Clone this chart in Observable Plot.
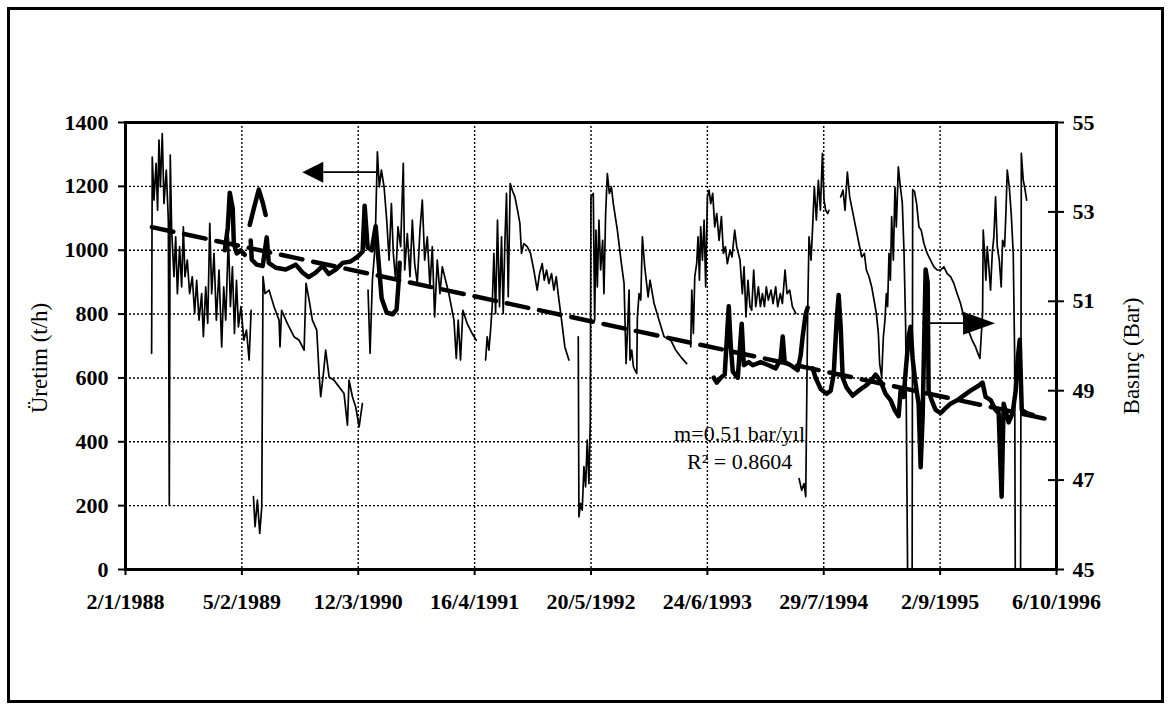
<!DOCTYPE html>
<html lang="tr">
<head>
<meta charset="utf-8">
<script src="https://cdn.jsdelivr.net/npm/d3@7"></script>
<script src="https://cdn.jsdelivr.net/npm/@observablehq/plot@0.6"></script>
<style>
  html, body { margin: 0; padding: 0; background: #fff; }
  #sayfa { position: relative; width: 1170px; height: 709px; overflow: hidden; background: #fff; }
  #sayfa svg { position: absolute; left: 0; top: 0; }
  #cerceve { position: absolute; left: 7px; top: 7px; width: 1157px; height: 696px;
             border: 3px solid #000; box-sizing: border-box; pointer-events: none; }
</style>
</head>
<body>
<div id="sayfa"><div id="cerceve"></div></div>
<script>
// ---- Eksenler ----
const tarihEtiketleri = ["2/1/1988", "5/2/1989", "12/3/1990", "16/4/1991", "20/5/1992",
                         "24/6/1993", "29/7/1994", "2/9/1995", "6/10/1996"];
const uretimAralik = [0, 1400];          // t/h (sol eksen)
const uretimTikleri = [0, 200, 400, 600, 800, 1000, 1200, 1400];
const basincAralik = [45, 55];           // bar (sağ eksen)
const basincTikleri = [45, 47, 49, 51, 53, 55];

// ---- Üretim (t/h): [ondalık yıl, değer]; null = veri boşluğu ----
const uretim = [
  [1988.248,677],[1988.254,1292],[1988.27,1157],[1988.29,1272],[1988.304,1125],[1988.317,1345],[1988.33,1198],[1988.348,1365],
  [1988.364,1146],[1988.386,1251],[1988.405,1094],[1988.414,201],[1988.423,1298],[1988.436,1063],[1988.458,917],[1988.474,1042],
  [1988.49,864],[1988.511,1011],[1988.53,885],[1988.546,1073],[1988.561,917],[1988.583,969],[1988.605,864],[1988.63,917],
  [1988.652,802],[1988.671,906],[1988.693,781],[1988.718,864],[1988.734,729],[1988.756,885],[1988.775,771],[1988.794,1084],
  [1988.812,864],[1988.834,990],[1988.856,781],[1988.881,938],[1988.906,697],[1988.925,885],[1988.944,781],[1988.969,1042],
  [1988.988,823],[1989.007,948],[1989.026,739],[1989.045,906],[1989.063,760],[1989.088,823],[1989.114,718],[1989.139,750],
  [1989.164,656],[1989.183,812],
  null,
  [1989.205,228],[1989.22,134],[1989.242,217],[1989.264,113],[1989.283,196],[1989.295,917],[1989.314,864],[1989.352,875],
  [1989.399,823],[1989.446,781],[1989.455,697],[1989.47,812],[1989.525,770],[1989.587,729],[1989.635,718],[1989.682,687],
  [1989.70,896],[1989.729,844],[1989.76,781],[1989.801,750],[1989.823,614],[1989.838,541],[1989.864,614],[1989.885,687],
  [1989.917,603],[1989.964,593],[1990.011,572],[1990.058,551],[1990.09,452],[1990.105,593],[1990.137,541],[1990.168,509],
  [1990.2,447],[1990.231,520],
  null,
  [1990.284,875],[1990.303,677],[1990.325,906],[1990.35,1011],[1990.372,1308],[1990.39,1198],[1990.41,1251],[1990.435,1198],
  [1990.46,1094],[1990.482,969],[1990.504,1146],[1990.522,990],[1990.544,906],[1990.566,1073],[1990.591,1011],[1990.616,1272],
  [1990.629,938],[1990.654,1052],[1990.679,917],[1990.701,1094],[1990.723,958],[1990.748,896],[1990.773,1063],[1990.795,1157],
  [1990.817,969],[1990.842,1042],[1990.867,885],[1990.889,1011],[1990.911,791],[1990.936,969],[1990.961,864],[1990.983,948],
  [1991.014,906],[1991.045,864],[1991.093,781],[1991.115,661],[1991.133,781],[1991.155,656],[1991.177,812],[1991.218,770],
  [1991.265,739],[1991.303,718],
  null,
  [1991.391,656],[1991.406,729],[1991.422,687],[1991.438,750],[1991.453,823],[1991.469,990],[1991.485,802],[1991.503,1094],
  [1991.522,823],[1991.541,1042],[1991.557,802],[1991.573,1031],[1991.588,1178],[1991.604,854],[1991.623,1209],[1991.642,1188],
  [1991.667,1167],[1991.692,1125],[1991.714,1084],[1991.729,990],[1991.751,1021],[1991.783,1011],[1991.814,990],[1991.845,938],
  [1991.877,875],[1991.899,927],[1991.924,958],[1991.943,906],[1991.965,938],[1991.987,896],[1992.012,927],[1992.034,875],
  [1992.056,917],[1992.074,864],[1992.106,781],[1992.137,697],[1992.175,656],
  null,
  [1992.263,729],[1992.269,165],[1992.285,207],[1992.3,186],[1992.316,322],[1992.332,259],[1992.347,405],[1992.363,269],
  [1992.376,468],[1992.382,1167],[1992.404,1178],[1992.417,781],[1992.429,1063],[1992.442,885],[1992.457,1094],[1992.473,938],
  [1992.492,1031],[1992.504,864],[1992.52,1115],[1992.536,1240],[1992.555,1178],[1992.574,1198],[1992.592,1146],[1992.63,1063],
  [1992.668,958],[1992.693,896],[1992.712,645],[1992.724,739],[1992.74,875],[1992.749,656],[1992.765,687],[1992.781,635],
  [1992.796,624],[1992.812,614],[1992.818,791],[1992.834,864],[1992.85,844],[1992.865,1042],[1992.887,948],[1992.919,854],
  [1992.937,906],[1992.975,833],[1993.022,781],[1993.069,729],[1993.132,718],[1993.179,687],[1993.226,666],[1993.282,645],
  null,
  [1993.32,697],[1993.33,875],[1993.345,739],[1993.358,917],[1993.376,958],[1993.389,1042],[1993.402,906],[1993.414,1073],
  [1993.43,969],[1993.446,1094],[1993.461,885],[1993.477,1167],[1993.493,1188],[1993.508,1146],[1993.527,1178],[1993.546,1073],
  [1993.565,1115],[1993.587,1031],[1993.609,1105],[1993.628,990],[1993.646,1011],[1993.665,958],[1993.69,1000],[1993.709,979],
  [1993.734,1063],[1993.753,1011],[1993.784,969],[1993.806,864],[1993.822,948],[1993.84,791],[1993.859,906],[1993.878,823],
  [1993.894,812],[1993.913,938],[1993.932,823],[1993.957,885],[1993.976,823],[1993.995,864],[1994.014,823],[1994.032,885],
  [1994.051,844],[1994.076,875],[1994.095,833],[1994.12,885],[1994.139,823],[1994.164,864],[1994.183,833],[1994.208,938],
  [1994.227,864],[1994.252,875],[1994.277,823],[1994.309,802],
  null,
  [1994.34,285],[1994.365,248],[1994.387,269],[1994.403,228],[1994.421,802],[1994.434,1042],[1994.453,969],[1994.465,1052],
  [1994.484,1198],[1994.503,1094],[1994.522,1219],[1994.541,1125],[1994.56,1303],[1994.575,1157],[1994.591,1125],[1994.61,1115],
  [1994.622,1125],
  null,
  [1994.732,1167],[1994.754,1188],[1994.773,1125],[1994.795,1245],[1994.817,1167],[1994.842,1125],[1994.873,1073],[1994.904,1021],
  [1994.93,979],[1994.955,990],[1994.974,938],[1994.999,917],[1995.024,885],[1995.046,844],[1995.068,802],[1995.087,739],
  [1995.099,645],[1995.118,603],[1995.134,729],[1995.149,781],[1995.162,864],[1995.174,823],[1995.187,990],[1995.2,906],
  [1995.212,1105],[1995.228,969],[1995.243,1198],[1995.256,1073],[1995.275,1261],[1995.294,1198],[1995.312,1150],[1995.328,1000],
  [1995.344,758],[1995.362,0],[1995.405,0],[1995.41,1190],[1995.428,1183],[1995.447,1146],[1995.469,1073],[1995.49,1063],
  [1995.516,1021],[1995.547,990],[1995.578,969],[1995.61,948],[1995.641,938],[1995.672,938],[1995.704,948],[1995.735,927],
  [1995.767,917],[1995.798,896],[1995.829,864],[1995.861,833],[1995.892,791],[1995.923,760],[1995.97,718],[1996.002,697],
  [1996.024,677],[1996.043,661],[1996.055,729],[1996.068,802],[1996.074,1063],[1996.087,990],[1996.099,906],[1996.112,1011],
  [1996.127,948],[1996.143,875],[1996.159,990],[1996.174,1042],[1996.19,1167],[1996.206,1011],[1996.225,969],[1996.243,885],
  [1996.256,1031],[1996.275,1011],[1996.287,1115],[1996.3,1251],[1996.319,1198],[1996.337,1115],[1996.356,990],[1996.369,677],
  [1996.375,0],[1996.425,0],[1996.432,1303],[1996.45,1219],[1996.463,1198],[1996.482,1157]
];

// ---- Basınç (bar): [ondalık yıl, değer]; null = veri boşluğu ----
const basinc = [
  [1988.935,52.14],[1988.963,52.64],[1988.982,53.43],[1989.01,53.07],[1989.02,52.29],[1989.048,52.07],[1989.085,52.14],[1989.123,52.04],
  null,
  [1989.17,52.71],[1989.208,53.07],[1989.255,53.5],[1989.292,53.21],[1989.32,52.93],
  null,
  [1989.179,52.36],[1989.189,51.93],[1989.236,51.82],[1989.292,51.79],[1989.33,52.43],[1989.349,51.86],[1989.415,51.75],[1989.509,51.71],
  [1989.603,51.82],[1989.669,51.64],[1989.725,51.54],[1989.791,51.64],[1989.857,51.79],[1989.913,51.61],[1989.979,51.71],[1990.045,51.86],
  [1990.12,51.89],[1990.186,52.0],[1990.233,52.11],[1990.252,53.14],[1990.28,52.21],[1990.318,52.14],[1990.356,52.68],[1990.384,51.86],
  [1990.412,51.07],[1990.459,50.75],[1990.516,50.71],[1990.553,50.82],[1990.572,51.43],[1990.582,51.86],
  null,
  [1993.537,49.29],[1993.565,49.18],[1993.603,49.29],[1993.64,49.36],[1993.678,50.89],[1993.697,50.0],[1993.716,49.43],[1993.763,49.29],
  [1993.8,50.5],[1993.82,49.57],[1993.866,49.64],[1993.904,49.57],[1993.979,49.64],[1994.054,49.57],[1994.12,49.5],[1994.167,49.71],
  [1994.186,50.21],[1994.205,49.64],[1994.261,49.57],[1994.327,49.46],[1994.355,49.79],[1994.374,50.21],[1994.402,50.71],[1994.421,50.86],
  null,
  [1994.468,49.5],[1994.496,49.29],[1994.543,49.04],[1994.6,48.93],[1994.638,49.0],[1994.666,49.36],[1994.694,50.57],[1994.713,51.14],
  [1994.732,50.43],[1994.751,49.29],[1994.788,49.07],[1994.845,48.89],[1994.901,49.0],[1994.967,49.11],[1995.014,49.21],[1995.061,49.36],
  [1995.108,49.21],[1995.155,48.93],[1995.202,48.79],[1995.24,48.57],[1995.278,48.43],[1995.296,49.0],[1995.325,48.86],[1995.344,49.43],
  [1995.372,50.21],[1995.39,50.43],[1995.41,49.71],[1995.438,49.14],[1995.466,48.71],[1995.485,47.29],[1995.504,48.43],[1995.532,51.71],
  [1995.551,51.43],[1995.56,49.0],[1995.588,48.79],[1995.626,48.57],[1995.673,48.5],[1995.72,48.61],[1995.767,48.71],[1995.833,48.79],
  [1995.889,48.89],[1995.955,49.0],[1996.03,49.11],[1996.068,49.18],[1996.097,48.86],[1996.144,48.79],[1996.19,48.57],[1996.219,48.5],
  [1996.247,46.63],[1996.266,48.71],[1996.313,48.29],[1996.35,48.5],[1996.379,49.0],[1996.398,49.71],[1996.417,50.14],[1996.436,48.57],
  [1996.483,48.5],[1996.539,48.46]
];

// ---- Basınç eğilimi: m = 0.51 bar/yıl, R² = 0.8604 ----
const egim = 0.51;
const r2 = 0.8604;
const trendYillari = [1988.25, 1996.70];
const trendBaslangicBasinci = 52.66;

// ---- Seri okları: [kuyruk yılı, uç yılı, değer, eksen] ----
const oklar = [
  {kuyruk: 1990.384, uc: 1989.669, deger: 1243, eksen: "uretim"},
  {kuyruk: 1995.504, uc: 1996.19,  deger: 50.5, eksen: "basinc"}
];

// ---------------------------------------------------------------
const yazi = "'Liberation Serif', 'Times New Roman', serif";

// ondalık yıl -> UTC tarih
function yilTarih(t) {
  const y = Math.floor(t);
  const a = Date.UTC(y, 0, 1), b = Date.UTC(y + 1, 0, 1);
  return new Date(a + (t - y) * (b - a));
}
// bar -> sol eksen birimi (iki eksen aynı dikey aralığı paylaşır)
const barToY = b => uretimAralik[0] + (b - basincAralik[0]) / (basincAralik[1] - basincAralik[0]) * (uretimAralik[1] - uretimAralik[0]);
const yToBar = v => basincAralik[0] + (v - uretimAralik[0]) / (uretimAralik[1] - uretimAralik[0]) * (basincAralik[1] - basincAralik[0]);

const satirlar = (pairs, f) => pairs.map(p => p ? {t: yilTarih(p[0]), v: f(p[1])} : {t: null, v: NaN});

const tarihOku = d3.utcParse("%d/%m/%Y");
const tikTarihleri = tarihEtiketleri.map(tarihOku);
const etiketHaritasi = new Map(tikTarihleri.map((d, i) => [+d, tarihEtiketleri[i]]));

const uretimVerisi = satirlar(uretim, v => v);
const basincVerisi = satirlar(basinc, barToY);
const trendVerisi = trendYillari.map(t => ({
  t: yilTarih(t),
  v: barToY(trendBaslangicBasinci - egim * (t - trendYillari[0]))
}));

// içi dolu üçgen uçlu ok
function okIsareti(ok, basUzunluk, basYari) {
  return (index, scales) => {
    const x0 = scales.x(yilTarih(ok.kuyruk));
    const x1 = scales.x(yilTarih(ok.uc));
    const y = scales.y(ok.eksen === "basinc" ? barToY(ok.deger) : ok.deger);
    const yon = Math.sign(x1 - x0);
    const taban = x1 - yon * basUzunluk;
    const g = d3.create("svg:g");
    g.append("line").attr("x1", x0).attr("x2", taban).attr("y1", y).attr("y2", y)
      .attr("stroke", "#000").attr("stroke-width", 1.8);
    g.append("path").attr("d", `M${x1},${y}L${taban},${y - basYari}L${taban},${y + basYari}Z`)
      .attr("fill", "#000");
    return g.node();
  };
}

const izgara = {stroke: "#000", strokeOpacity: 1, strokeWidth: 1.4, strokeDasharray: "2,2"};

const grafik = Plot.plot({
  width: 1170,
  height: 709,
  marginLeft: 125,
  marginRight: 114,
  marginTop: 122,
  marginBottom: 140,
  style: {fontFamily: yazi, color: "#000", background: "transparent"},
  x: {type: "utc", domain: [tikTarihleri[0], tikTarihleri[tikTarihleri.length - 1]]},
  y: {domain: uretimAralik},
  marks: [
    Plot.gridY(uretimTikleri, izgara),
    Plot.gridX(tikTarihleri.slice(1, -1), izgara),

    Plot.line(uretimVerisi, {x: "t", y: "v", stroke: "#000", strokeWidth: 1.7, strokeLinejoin: "round"}),
    Plot.line(basincVerisi, {x: "t", y: "v", stroke: "#000", strokeWidth: 4.5,
                             strokeLinejoin: "round", strokeLinecap: "round"}),
    Plot.line(trendVerisi, {x: "t", y: "v", stroke: "#000", strokeWidth: 4.5, strokeDasharray: "22,11"}),

    okIsareti(oklar[0], 21, 10.5),
    okIsareti(oklar[1], 32, 11.5),

    Plot.text([`m=${egim} bar/yıl`, `R² = ${r2}`], {
      x: () => yilTarih(1993.78),
      y: (d, i) => [426, 338][i],
      text: d => d, fontSize: 22, textAnchor: "middle", fill: "#000"
    }),

    Plot.axisX(tikTarihleri, {
      tickSize: 6, tickPadding: 18, strokeWidth: 2, label: null,
      tickFormat: d => etiketHaritasi.get(+d), fontSize: 22, fontWeight: "bold"
    }),
    Plot.axisY(uretimTikleri, {
      anchor: "left", tickSize: 7, tickPadding: 10, strokeWidth: 2, label: null,
      tickFormat: "d", fontSize: 22, fontWeight: "bold"
    }),
    Plot.axisY(basincTikleri.map(barToY), {
      anchor: "right", tickSize: 16, dx: -9, tickPadding: 9, strokeWidth: 2, label: null,
      tickFormat: v => String(Math.round(yToBar(v))), fontSize: 22, fontWeight: "bold"
    }),

    Plot.text(["Üretim (t/h)"], {frameAnchor: "left", dx: -86, dy: 12, rotate: -90,
      textAnchor: "middle", lineAnchor: "middle", text: d => d, fontSize: 23}),
    Plot.text(["Basınç (Bar)"], {frameAnchor: "right", dx: 75, dy: 10, rotate: -90,
      textAnchor: "middle", lineAnchor: "middle", text: d => d, fontSize: 23}),

    Plot.frame({stroke: "#000", strokeWidth: 3})
  ]
});

document.getElementById("sayfa").prepend(grafik);
</script>
</body>
</html>
